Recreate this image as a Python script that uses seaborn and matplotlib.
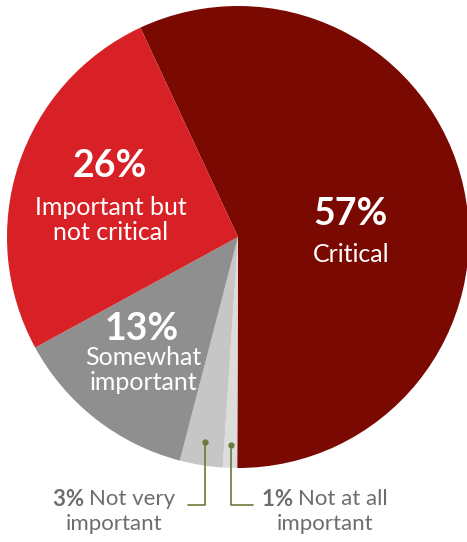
import matplotlib.pyplot as plt
import seaborn as sns
import numpy as np

sns.set_theme(style="white")
plt.rcParams['font.family'] = ['Lato', 'DejaVu Sans']

# Data
labels = ['Critical', 'Not at all\nimportant', 'Not very\nimportant',
          'Somewhat\nimportant', 'Important but\nnot critical']
pcts = [57, 1, 3, 13, 26]
colors = ['#7a0902', '#dcdcdc', '#c6c6c6', '#8f8f8f', '#d72126']

W, H = 467, 542
fig = plt.figure(figsize=(W / 100, H / 100), dpi=100)

# pie geometry in pixels
cx, cy, r = 238, 237, 231
ax = fig.add_axes([(cx - r) / W, (H - cy - r) / H, 2 * r / W, 2 * r / H])


def px(x, y):
    return (x - cx) / r, (cy - y) / r


wedges, _ = ax.pie(pcts, colors=colors, startangle=115, counterclock=False,
                   radius=1, wedgeprops=dict(linewidth=0))
ax.set_xlim(-1, 1)
ax.set_ylim(-1, 1)
ax.set_aspect('auto')
ax.axis('off')

# labels inside the big slices: (slice index, x, y of pct, x, y of text)
inside = [(0, 351, 214, 351, 254),
          (4, 110, 166, 111, 220),
          (3, 142, 329, 143, 370)]
for idx, px1, py1, px2, py2 in inside:
    x, y = px(px1, py1)
    ax.text(x, y, f"{pcts[idx]}%", color='white', fontsize=27,
            fontweight='bold', ha='center', va='center')
    x, y = px(px2, py2)
    ax.text(x, y, labels[idx], color='white', fontsize=18, ha='center',
            va='center', linespacing=1.1)

# leader lines for the small slices
line_col = '#6b7a3a'
text_col = '#6d6d6d'
elbow_y = px(0, 505)[1]
for idx, end_px in [(2, 188), (1, 253)]:
    w = wedges[idx]
    mid = np.deg2rad((w.theta1 + w.theta2) / 2)
    dx, dy = 0.9 * np.cos(mid), 0.9 * np.sin(mid)
    ex = px(end_px, 0)[0]
    ax.plot([dx, dx, ex], [dy, elbow_y, elbow_y], color=line_col, lw=1.2,
            clip_on=False)
    ax.plot(dx, dy, 'o', color=line_col, ms=3.5, clip_on=False)

# bottom labels: bold percentage + text, then second line
fig.canvas.draw()
inv = ax.transData.inverted()
for idx, tx in [(2, 114), (1, 325)]:
    first, second = labels[idx].split('\n')
    x, y = px(tx, 499)
    pct = ax.text(x, y, f"{pcts[idx]}% ", color=text_col, fontsize=16,
                  fontweight='bold', ha='left', va='center', clip_on=False)
    rest = ax.text(x, y, first, color=text_col, fontsize=16, ha='left',
                   va='center', clip_on=False)
    fig.canvas.draw()
    w1 = pct.get_window_extent().width
    w2 = rest.get_window_extent().width
    x0 = ax.transData.transform((x, y))[0] - (w1 + w2) / 2
    pct.set_x(inv.transform((x0, 0))[0])
    rest.set_x(inv.transform((x0 + w1, 0))[0])
    x, y = px(tx, 524)
    ax.text(x, y, second, color=text_col, fontsize=16, ha='center',
            va='center', clip_on=False)

fig.savefig('out.png', dpi=100)
